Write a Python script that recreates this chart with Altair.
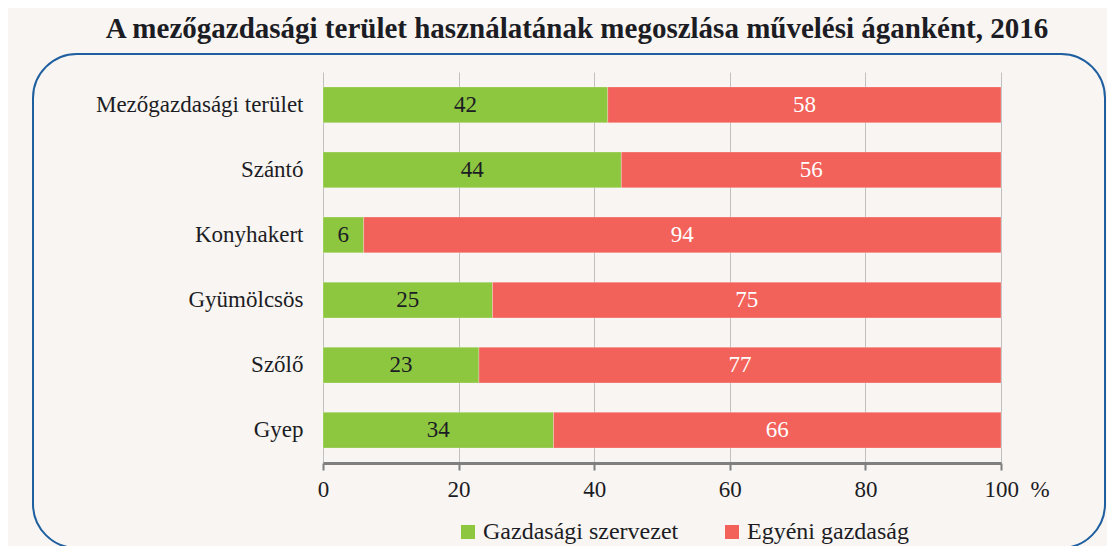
import altair as alt
import pandas as pd

categories = ["Mezőgazdasági terület", "Szántó", "Konyhakert", "Gyümölcsös", "Szőlő", "Gyep"]
series_names = ["Gazdasági szervezet", "Egyéni gazdaság"]
green_values = [42, 44, 6, 25, 23, 34]
red_values = [58, 56, 94, 75, 77, 66]
x_ticks = [0, 20, 40, 60, 80, 100]
title_text = "A mezőgazdasági terület használatának megoszlása művelési áganként, 2016"

rows = []
for c, g, r in zip(categories, green_values, red_values):
    rows.append({"cat": c, "series": series_names[0], "value": g, "order": 0})
    rows.append({"cat": c, "series": series_names[1], "value": r, "order": 1})
df = pd.DataFrame(rows)

FONT = "Liberation Serif"
GREEN = "#8DC63F"
RED = "#F2625A"
TXT = "#1c1c24"

y_enc = alt.Y("cat:N", sort=categories, title=None,
              scale=alt.Scale(paddingInner=0.45, paddingOuter=0.23),
              axis=alt.Axis(domain=False, ticks=False, labelFont=FONT, labelFontSize=23,
                            labelColor=TXT, labelPadding=20, grid=False, labelLimit=400))

base = alt.Chart(df).transform_stack(
    stack="value", groupby=["cat"], as_=["x0", "x1"], sort=[alt.SortField("order")]
).transform_calculate(mid="(datum.x0 + datum.x1) / 2")

bars = base.mark_bar(stroke="#ffffff", strokeWidth=0.5, strokeOpacity=0.5).encode(
    x=alt.X("x0:Q", scale=alt.Scale(domain=[0, 100], nice=False),
            axis=alt.Axis(values=x_ticks, title=None, grid=True, gridColor="#C0C0C0", gridWidth=1,
                          domainColor="#7F7F7F", domainWidth=3, tickColor="#7F7F7F", tickWidth=2,
                          tickSize=7, labelFont=FONT, labelFontSize=23, labelColor=TXT,
                          labelPadding=8, labelFlush=False,
                          labelAlign={"condition": {"test": "datum.value == 100", "value": "left"}, "value": "center"},
                          labelOffset={"condition": {"test": "datum.value == 100", "value": -17}, "value": 0},
                          labelExpr="datum.value == 100 ? '100\u00a0\u00a0%' : datum.label")),
    x2="x1:Q",
    y=y_enc,
    color=alt.Color("series:N", sort=series_names,
                    scale=alt.Scale(domain=series_names, range=[GREEN, RED]),
                    legend=alt.Legend(title=None, orient="none", legendX=133, legendY=448,
                                      direction="horizontal", columns=2,
                                      symbolType="square", symbolSize=196,
                                      symbolStrokeWidth=0, labelFont=FONT, labelFontSize=24,
                                      labelColor=TXT, labelOffset=3, columnPadding=41,
                                      labelLimit=400)),
)

labels = base.mark_text(font=FONT, fontSize=23).encode(
    x=alt.X("mid:Q"),
    y=alt.Y("cat:N", sort=categories),
    text=alt.Text("value:Q"),
    color=alt.condition("datum.order == 0", alt.value(TXT), alt.value("#ffffff")),
)

bg_df = pd.DataFrame({"k": [0]})
frame = alt.Chart(bg_df).mark_rect(fill=None, stroke="#1F5F9F", strokeWidth=2, cornerRadius=44).encode(
    x=alt.value(-290), x2=alt.value(782), y=alt.value(-18), y2=alt.value(476)
)

chart = alt.layer(bars, labels, frame).properties(
    width=678, height=391,
    autosize=alt.AutoSizeParams(type="none"),
    padding={"left": 315, "top": 64, "right": 106, "bottom": 83},
    background="#F8F5F2",
    title=alt.TitleParams(title_text, font=FONT, fontSize=29, fontWeight="bold", color=TXT,
                          anchor="middle", dx=-85, offset=9),
).configure_view(stroke=None)

chart.save("out.html", embed_options={"renderer": "svg", "actions": False})
